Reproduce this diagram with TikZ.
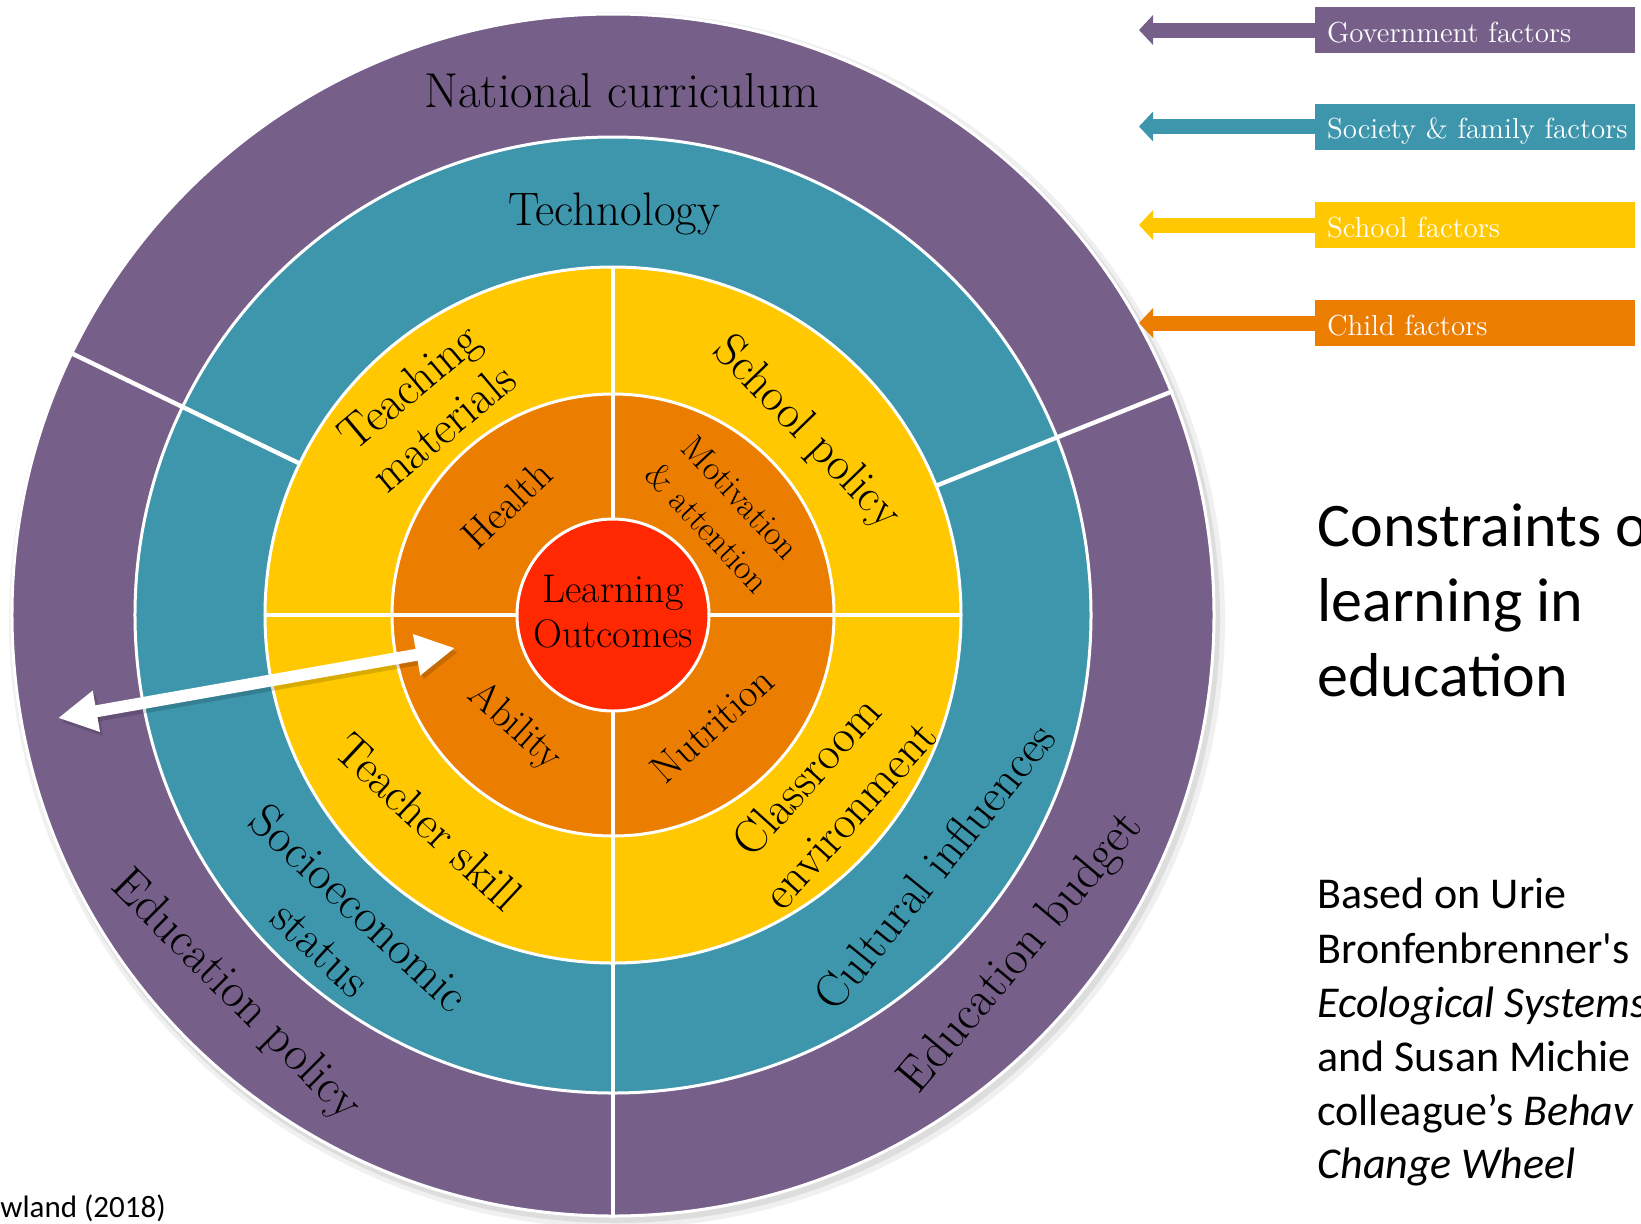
\documentclass[tikz,border=0pt]{standalone}
\usepackage{fontspec}
\newfontfamily\calibrifont{Carlito}
\usetikzlibrary{arrows.meta}
\definecolor{govpurple}{HTML}{76608A}
\definecolor{socteal}{HTML}{3E96AC}
\definecolor{schyellow}{HTML}{FFC800}
\definecolor{childorange}{HTML}{EB7D00}
\definecolor{outred}{HTML}{FF2800}
\tikzset{
  ring/.style={draw=white, line width=1.5pt},
  spoke/.style={white, line width=2.2pt},
  ringlabel/.style={font=\fontsize{23.5}{27.5}\selectfont, align=center, inner sep=0pt},
  outerlabel/.style={font=\fontsize{24.5}{29}\selectfont, align=center, inner sep=0pt},
  corelabel/.style={font=\fontsize{20}{24}\selectfont, align=center, inner sep=0pt},
  factorbox/.style={fill=#1, text=white, minimum width=160pt, minimum height=23pt,
    text width=160pt, inner xsep=0pt, inner ysep=0pt, text height=12pt, text depth=0pt,
    align=left, font=\fontsize{14.5}{17}\selectfont, execute at begin node=\hspace*{6pt}},
  factorarrow/.style={draw=#1, line width=7.5pt, -{Triangle[length=7pt,width=14.5pt]}},
  titleline/.style={font=\calibrifont\fontsize{31}{37}\selectfont, anchor=base west, inner sep=0pt},
  noteline/.style={font=\calibrifont\fontsize{22}{27}\selectfont, anchor=base west, inner sep=0pt},
  sourceline/.style={font=\calibrifont\fontsize{15.5}{18}\selectfont, anchor=base west, inner sep=0pt},
}
\begin{document}
\begin{tikzpicture}[x=0.5pt, y=0.5pt]
			\useasboundingbox (-613,-608) rectangle (1028,615);
			
			%%%%% RINGS %%%%%
			
			\fill[black, opacity=0.06] (4,-5) circle (608);
			\fill[black, opacity=0.08] (3,-4) circle (604);
			\filldraw[fill=govpurple, ring] (0,0) circle (601);
			\filldraw[fill=socteal, ring] (0,0) circle (478);
			\filldraw[fill=schyellow, ring] (0,0) circle (348);
			\filldraw[fill=childorange, ring] (0,0) circle (221);
			
			\draw[spoke] (154.2:348) -- (154.2:603);
			\draw[spoke] (21.8:348) -- (21.8:603);
			\draw[spoke] (270:96) -- (270:603);
			\draw[spoke] (0:96) -- (0:348);
			\draw[spoke] (90:96) -- (90:348);
			\draw[spoke] (180:96) -- (180:348);
			
			\filldraw[fill=outred, ring] (0,0) circle (96);
			
			%%%%% LABELS %%%%%
			
			\node[outerlabel, anchor=base] (natcurr) at (9,508) {National curriculum};
			\node[ringlabel, anchor=base] (tech) at (1,390) {Technology};
			\node[outerlabel, rotate=-45] (edpolicy) at (225.3:537) {Education policy};
			\node[outerlabel, rotate=50] (edbudget) at (320.4:531) {Education budget};
			\node[ringlabel, rotate=51] (cultural) at (322:408) {Cultural influences};
			\node[ringlabel, rotate=-43, font=\fontsize{24}{28}\selectfont] (socio) at (229:415) {Socioeconomic\\status};
			\node[ringlabel, rotate=-43] (teacher) at (228.3:277) {Teacher skill};
			\node[ringlabel, rotate=48, font=\fontsize{23.5}{29}\selectfont] (classroom) at (320:280) {Classroom\\environment};
			\node[ringlabel, rotate=40, font=\fontsize{23.5}{26.5}\selectfont] (teaching) at (132:280) {Teaching\\materials};
			\node[ringlabel, rotate=-46] (schoolpol) at (43.2:265) {School policy};
			
			\node[corelabel, rotate=44] (health) at (134:153) {Health};
			\node[corelabel, rotate=-47, font=\fontsize{17.5}{22.5}\selectfont] (motivation) at (42.6:151) {Motivation\\\& attention};
			\node[corelabel, rotate=-42] (ability) at (228.8:149) {Ability};
			\node[corelabel, rotate=42] (nutrition) at (-48:148) {Nutrition};
			\node[corelabel, font=\fontsize{20}{22.5}\selectfont] (outcomes) at (0,3) {Learning\\Outcomes};
			
			%%%%% DOUBLE ARROW %%%%%
			
			\coordinate (dblL) at (-555,-103);
			\coordinate (dblR) at (-158,-33);
			\draw[black, opacity=0.15, line width=6pt, {Triangle[length=19.5pt,width=19.5pt]}-{Triangle[length=19.5pt,width=19.5pt]}] ([shift={(3,-4)}]dblL) -- ([shift={(3,-4)}]dblR);
			\draw[white, line width=6pt, {Triangle[length=19.5pt,width=19.5pt]}-{Triangle[length=19.5pt,width=19.5pt]}] (dblL) -- (dblR);
			
			%%%%% KEY %%%%%
			
			\node[factorbox=govpurple] (govbox) at (862,585) {Government factors};
			\node[factorbox=socteal] (socbox) at (862,488.5) {Society \& family factors};
			\node[factorbox=schyellow] (schbox) at (862,390) {School factors};
			\node[factorbox=childorange] (chbox) at (862,292) {Child factors};
			
			\coordinate (govtip) at (526,585);
			\coordinate (soctip) at (526,488.5);
			\coordinate (schtip) at (526,390);
			\coordinate (chtip) at (526,292);
			\draw[factorarrow=govpurple] (govbox.west) -- (govtip);
			\draw[factorarrow=socteal] (socbox.west) -- (soctip);
			\draw[factorarrow=schyellow] (schbox.west) -- (schtip);
			\draw[factorarrow=childorange] (chbox.west) -- (chtip);
			
			%%%%% TEXT %%%%%
			
			\node[titleline] (title1) at (704,69) {Constraints o};
			\node[titleline] (title2) at (704,-6) {learning in};
			\node[titleline] (title3) at (704,-81) {education};
			
			\node[noteline] (note1) at (704,-293.5) {Based on Urie};
			\node[noteline] (note2) at (704,-348) {Bronfenbrenner\textquotesingle s};
			\node[noteline] (note3) at (704,-402) {\itshape Ecological Systems};
			\node[noteline] (note4) at (704,-456) {and Susan Michie};
			\node[noteline] (note5) at (704,-510) {colleague’s \itshape Behav};
			\node[noteline] (note6) at (704,-563) {\itshape Change Wheel};
			
			\node[sourceline] (source) at (-613,-602) {wland (2018)};
			
		\end{tikzpicture}
\end{document}
